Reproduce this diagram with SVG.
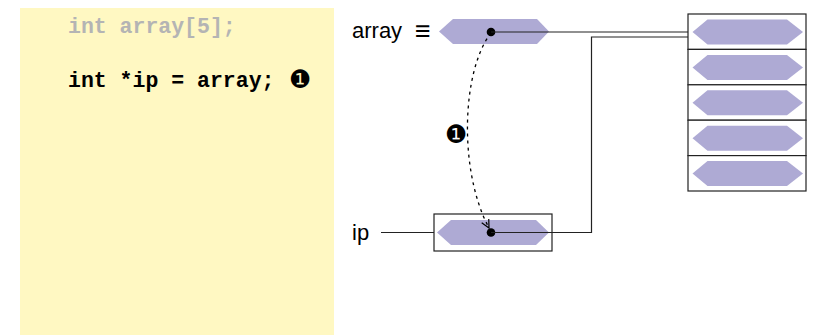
<svg xmlns="http://www.w3.org/2000/svg" width="813" height="335" viewBox="0 0 813 335">
  <defs>
    <style>
      .code { font-family: "Liberation Mono", "Courier New", monospace; font-weight: bold; font-size: 21.5px; }
      .label { font-family: "Liberation Sans", Arial, sans-serif; font-size: 22px; fill: #000; }
      .hex { fill: #aeaad4; }
      .box { fill: #fff; stroke: #222; stroke-width: 1.2; }
      .wire { fill: none; stroke: #222; stroke-width: 1.2; }
      .dash { fill: none; stroke: #000; stroke-width: 1.3; stroke-dasharray: 3 4; }
      .num { font-family: "DejaVu Sans", sans-serif; font-size: 25px; fill: #000; }
    </style>
    <marker id="arrow" viewBox="0 0 10 10" refX="9" refY="5" markerWidth="10" markerHeight="10" markerUnits="userSpaceOnUse" orient="auto">
      <path d="M1,1 L9,5 L1,9" fill="none" stroke="#000" stroke-width="1.2"/>
    </marker>
  </defs>
  <rect width="813" height="335" fill="#fff"/>

  <g id="code">
    <rect x="20" y="8" width="314" height="327" fill="#fff8c2"/>
    <text class="code" x="68" y="33" fill="#b4b4b4">int array[5];</text>
    <text class="code" x="68" y="87" fill="#000">int *ip = array;</text>
    <text class="num" x="289" y="88">❶</text>
  </g>

  <g id="array-name">
    <text class="label" x="352" y="38">array</text>
    <text class="label" x="415" y="40" style="font-size:27px">≡</text>
    <polygon class="hex" points="439,31.5 453,19 537,19 549,31.5 537,44 453,44"/>
    <circle cx="491" cy="32" r="4.3" fill="#000"/>
  </g>

  <g id="ip">
    <text class="label" x="352" y="240">ip</text>
    <rect class="box" x="434" y="214" width="118" height="37"/>
    <polygon class="hex" points="437,232.5 451,220 536,220 549,232.5 536,245 451,245"/>
    <circle cx="491" cy="232.5" r="4.3" fill="#000"/>
  </g>

  <g id="array">
    <rect class="box" x="688" y="14" width="118" height="35.4"/>
    <rect class="box" x="688" y="49.4" width="118" height="35.4"/>
    <rect class="box" x="688" y="84.8" width="118" height="35.4"/>
    <rect class="box" x="688" y="120.2" width="118" height="35.4"/>
    <rect class="box" x="688" y="155.6" width="118" height="35.4"/>
    <polygon class="hex" points="692.5,32 707.5,19.5 787,19.5 803,32 787,44.5 707.5,44.5"/>
    <polygon class="hex" points="692.5,67.4 707.5,54.9 787,54.9 803,67.4 787,79.9 707.5,79.9"/>
    <polygon class="hex" points="692.5,102.8 707.5,90.3 787,90.3 803,102.8 787,115.3 707.5,115.3"/>
    <polygon class="hex" points="692.5,138.2 707.5,125.7 787,125.7 803,138.2 787,150.7 707.5,150.7"/>
    <polygon class="hex" points="692.5,173.6 707.5,161.1 787,161.1 803,173.6 787,186.1 707.5,186.1"/>
  </g>

  <g id="connectors">
    <line class="wire" x1="491" y1="32" x2="688" y2="32"/>
    <polyline class="wire" points="491,232.5 591.5,232.5 591.5,37 688,37"/>
    <line class="wire" x1="381" y1="232.5" x2="434" y2="232.5"/>
    <path class="dash" d="M491,33 C462,70 458,170 489,228" marker-end="url(#arrow)"/>
    <text class="num" x="445" y="143">❶</text>
  </g>
</svg>
